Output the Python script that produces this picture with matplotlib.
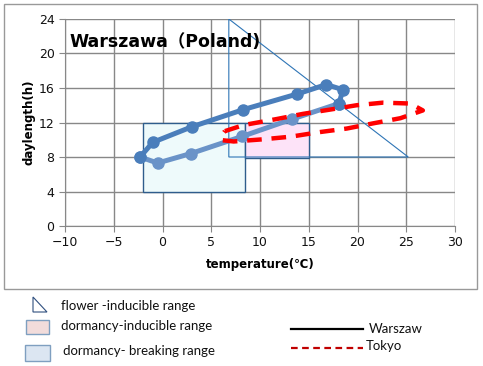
import matplotlib
matplotlib.use('Agg')
import matplotlib.pyplot as plt
from matplotlib.patches import Polygon, Rectangle
from matplotlib.lines import Line2D

plt.rcParams['font.family'] = ['DejaVu Sans', 'Noto Sans CJK JP']

# Warszawa monthly (temperature, daylength), Jan..Dec
warsaw_temp = [-2.3, -1.0, 3.0, 8.3, 13.8, 16.8, 18.5, 18.1, 13.3, 8.2, 2.9, -0.5]
warsaw_day = [8.0, 9.7, 11.5, 13.5, 15.3, 16.4, 15.8, 14.2, 12.4, 10.4, 8.4, 7.3]

# Tokyo loop
tokyo_temp = [6.4, 8.3, 11.7, 14.4, 17.2, 19.9, 22.6, 25.4, 26.7, 24.4, 21.6,
              18.9, 16.2, 13.1, 10.3, 7.3, 6.1, 6.0, 6.4]
tokyo_day = [11.0, 11.7, 12.4, 13.0, 13.5, 14.0, 14.3, 14.2, 13.4, 12.5, 11.9,
             11.3, 10.9, 10.35, 10.05, 9.8, 9.95, 10.4, 11.0]

# ranges
flower_range = [(6.8, 24), (6.8, 8), (25.2, 8)]
breaking_range = (-2, 4, 8.5, 12)    # x0, y0, x1, y1
inducible_range = (8.5, 7.9, 15, 12)

fig = plt.figure(figsize=(4.83, 3.66), dpi=100)
ax = fig.add_axes([0.1346, 0.3825, 0.8075, 0.5656])

x0, y0, x1, y1 = breaking_range
ax.add_patch(Rectangle((x0, y0), x1 - x0, y1 - y0, facecolor='#eefafb',
                       edgecolor='#2f5d8c', lw=1, zorder=2))
x0, y0, x1, y1 = inducible_range
ax.add_patch(Rectangle((x0, y0), x1 - x0, y1 - y0, facecolor='#fde3f8',
                       edgecolor='#2f5d8c', lw=1, zorder=2))
ax.add_patch(Polygon(flower_range, closed=True, fill=False,
                     edgecolor='#2e75b6', lw=0.8, zorder=3))

# Warszawa: first half darker, second half lighter
ax.plot(warsaw_temp[:8], warsaw_day[:8], color='#4a7ebb', lw=3.6,
        marker='o', ms=8, zorder=5, solid_capstyle='round')
ax.plot(warsaw_temp[7:] + warsaw_temp[:1], warsaw_day[7:] + warsaw_day[:1],
        color='#6a93c8', lw=3.6, marker='o', ms=8, zorder=4,
        solid_capstyle='round')

ax.plot(tokyo_temp, tokyo_day, color='#ff0000', lw=3.2,
        dashes=(3.3, 2.2), zorder=6)

ax.set_xlim(-10, 30)
ax.set_ylim(0, 24)
ax.set_xticks(range(-10, 31, 5))
ax.set_yticks(range(0, 25, 4))
ax.grid(True, color='#888888', lw=1)
ax.set_axisbelow(True)
for s in ['top', 'right']:
    ax.spines[s].set_visible(False)
for s in ['left', 'bottom']:
    ax.spines[s].set_color('#888888')
ax.tick_params(colors='#888888', labelcolor='#111111', labelsize=9, length=4)

ax.set_xlabel('temperature(℃)', fontsize=8.5, fontweight='bold', labelpad=6)
ax.set_ylabel('daylength(h)', fontsize=8.5, fontweight='bold', labelpad=2)
ax.text(-9.5, 21.3, 'Warszawa（Poland)', fontsize=12.5, fontweight='bold',
        va='center', ha='left', zorder=7)

# chart frame
fig.add_artist(Rectangle((4 / 483, 1 - 289 / 366), 473 / 483, 285 / 366,
                         transform=fig.transFigure, fill=False,
                         edgecolor='#999999', lw=1))

# legend under the chart
W, H = 483, 366
def fx(px):
    return px / W
def fy(py):
    return 1 - py / H

fig.add_artist(Polygon([(fx(33), fy(297)), (fx(33), fy(312)), (fx(47), fy(312))],
                       closed=True, fill=False, edgecolor='#2f4f7f', lw=0.8,
                       transform=fig.transFigure))
fig.add_artist(Rectangle((fx(26), fy(334)), 23 / W, 14 / H, facecolor='#f2dcdb',
                         edgecolor='#7f9fc0', lw=1, transform=fig.transFigure))
fig.add_artist(Rectangle((fx(25), fy(361)), 25 / W, 16 / H, facecolor='#dce6f2',
                         edgecolor='#7f9fc0', lw=1, transform=fig.transFigure))
legend_font = dict(family=['Lato', 'DejaVu Sans'], fontsize=9.5, va='center',
                   ha='left', color='#111111')
fig.text(fx(61), fy(306), 'flower -inducible range', **legend_font)
fig.text(fx(61), fy(326), 'dormancy-inducible range', **legend_font)
fig.text(fx(63), fy(351), 'dormancy- breaking range', **legend_font)

fig.add_artist(Line2D([fx(291), fx(363)], [fy(329), fy(329)], color='black',
                      lw=1.6, transform=fig.transFigure))
fig.add_artist(Line2D([fx(291), fx(363)], [fy(348), fy(348)], color='#c00000',
                      lw=1.6, dashes=(3, 2), transform=fig.transFigure))
fig.text(fx(369), fy(329), 'Warszaw', **legend_font)
fig.text(fx(366), fy(346), 'Tokyo', **legend_font)

fig.savefig('out.png', dpi=100)
